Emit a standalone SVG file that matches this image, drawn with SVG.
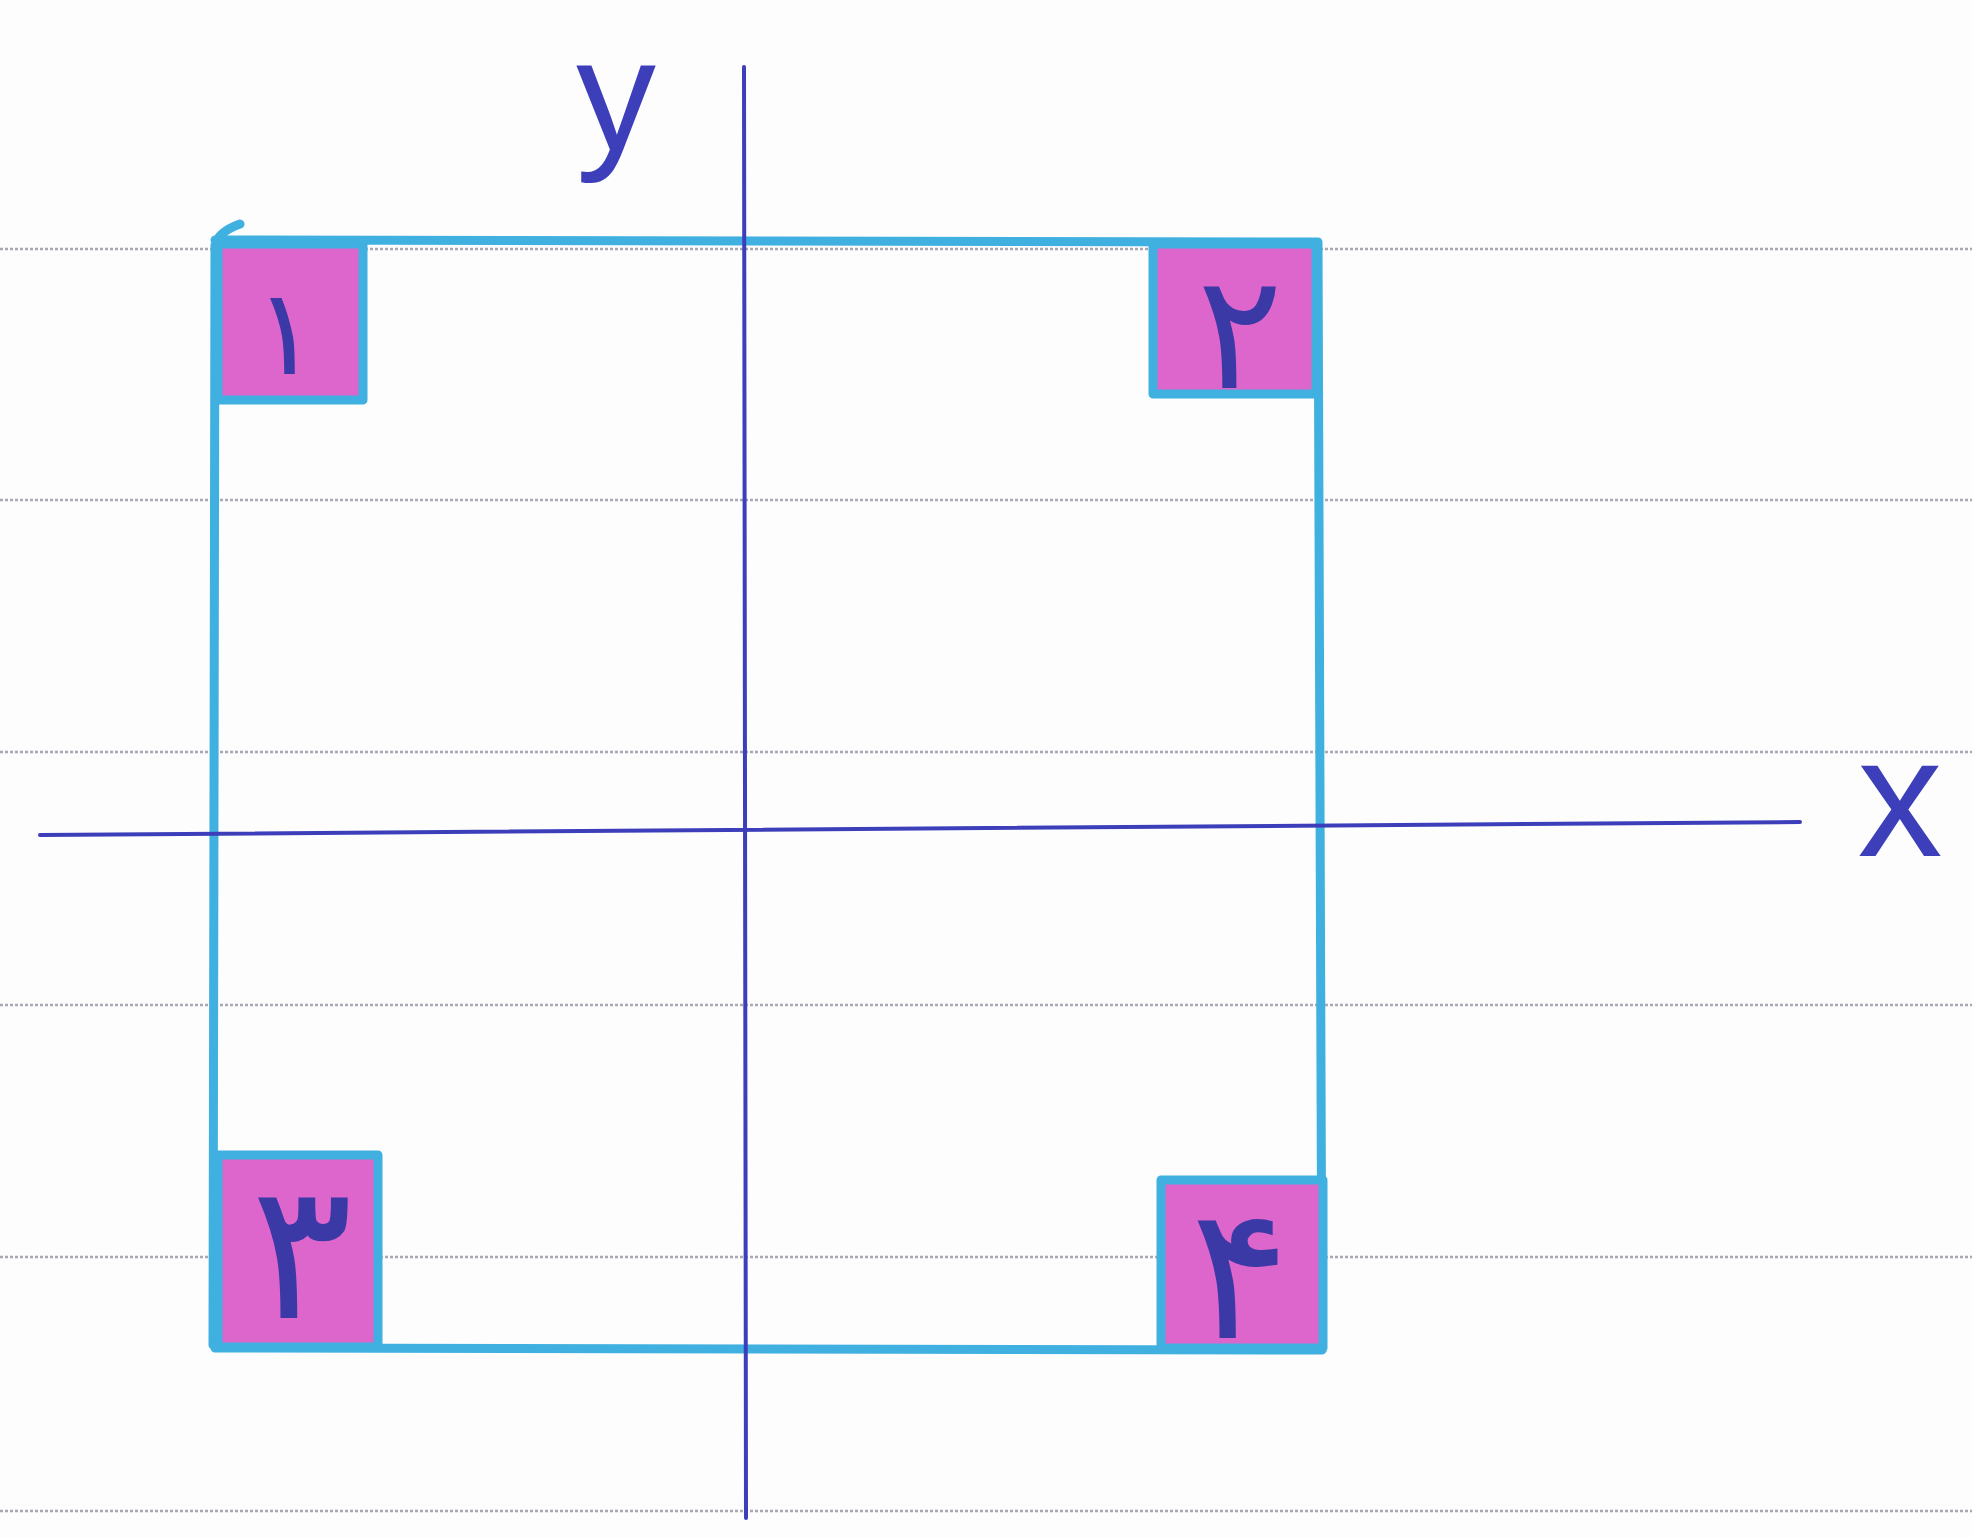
<svg xmlns="http://www.w3.org/2000/svg" width="1972" height="1538" viewBox="0 0 1972 1538">
<style>
.rule{stroke:#a9a9b4;stroke-width:2.5;stroke-dasharray:3 2;fill:none}
.frame{fill:none;stroke:#3fb0e0;stroke-width:9;stroke-linejoin:round;stroke-linecap:round}
.axis{stroke:#3d3fba;stroke-width:4;fill:none;stroke-linecap:round}
.box{fill:#dd66cc;stroke:#3fb0e0;stroke-width:9;stroke-linejoin:round}
.num{font-family:"DejaVu Sans","Noto Sans",sans-serif;fill:#3b39a6;text-anchor:middle}
.lab{font-family:"Liberation Sans",sans-serif;fill:#3d3fba;text-anchor:middle}
</style>
<rect width="1972" height="1538" fill="#fdfdfe"/>
<g id="ruled-lines">
<line class="rule" x1="0" y1="249" x2="1972" y2="249"/>
<line class="rule" x1="0" y1="500" x2="1972" y2="500"/>
<line class="rule" x1="0" y1="752" x2="1972" y2="752"/>
<line class="rule" x1="0" y1="1005" x2="1972" y2="1005"/>
<line class="rule" x1="0" y1="1257" x2="1972" y2="1257"/>
<line class="rule" x1="0" y1="1511" x2="1972" y2="1511"/>
</g>
<g id="frame">
<path class="frame" d="M213,1345 L215,245 Q218,232 240,224 M215,240 L1318,242 L1322,1350 L215,1348"/>
</g>
<g id="box1"><rect class="box" x="218" y="244" width="145" height="156"/><text class="num" x="286" y="374" font-size="120">۱</text></g>
<g id="box2"><rect class="box" x="1153" y="244" width="163" height="150"/><text class="num" x="1240" y="388" font-size="160">۲</text></g>
<g id="box3"><rect class="box" x="218" y="1155" width="160" height="192"/><text class="num" x="302" y="1318" font-size="190">۳</text></g>
<g id="box4"><rect class="box" x="1161" y="1180" width="162" height="168"/><text class="num" x="1240" y="1338" font-size="185">۴</text></g>
<g id="axes">
<line class="axis" x1="744" y1="67" x2="746" y2="1518"/>
<path class="axis" d="M40,835 L1800,822"/>
</g>
<g id="labels">
<text class="lab" x="616" y="150" font-size="160">y</text>
<text class="lab" x="1900" y="856" font-size="170">x</text>
</g>
</svg>
